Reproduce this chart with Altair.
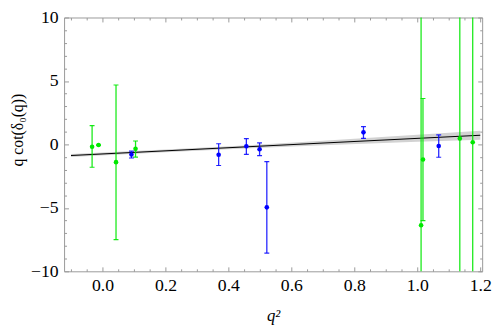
import altair as alt
import pandas as pd

# ---- data ----
green_x = [-0.033, -0.0125, 0.043, 0.105, 1.012, 1.018, 1.135, 1.176]
green_y = [-0.18, -0.05, -1.40, -0.35, -6.37, -1.19, 0.47, 0.17]
green_lo = [-1.80, -0.05, -7.50, -1.00, -30.0, -6.00, -30.0, -30.0]
green_hi = [1.48, -0.05, 4.68, 0.27, 30.0, 3.62, 30.0, 30.0]

blue_x = [0.092, 0.369, 0.457, 0.499, 0.522, 0.829, 1.068]
blue_y = [-0.80, -0.81, -0.15, -0.38, -4.96, 0.95, -0.13]
blue_lo = [-1.07, -1.66, -0.78, -0.88, -8.56, 0.48, -1.01]
blue_hi = [-0.53, 0.05, 0.45, 0.12, -1.36, 1.40, 0.75]

fit_x = [-0.1, 1.2]
fit_y = [-0.88, 0.72]

band_x = [-0.1, 0.2, 0.45, 0.7, 1.0, 1.2]
band_lo = [-1.00, -0.62, -0.32, -0.06, 0.20, 0.36]
band_hi = [-0.76, -0.40, -0.08, 0.28, 0.76, 1.08]

x_major = [0.0, 0.2, 0.4, 0.6, 0.8, 1.0, 1.2]
x_minor = [-0.1, -0.05, 0.05, 0.1, 0.15, 0.25, 0.3, 0.35, 0.45, 0.5, 0.55,
           0.65, 0.7, 0.75, 0.85, 0.9, 0.95, 1.05, 1.1, 1.15]
y_major = [-10, -5, 0, 5, 10]
y_minor = [-9, -8, -7, -6, -4, -3, -2, -1, 1, 2, 3, 4, 6, 7, 8, 9]

green_df = pd.DataFrame({"x": green_x, "y": green_y, "lo": green_lo, "hi": green_hi})
blue_df = pd.DataFrame({"x": blue_x, "y": blue_y, "lo": blue_lo, "hi": blue_hi})
fit_df = pd.DataFrame({"x": fit_x, "y": fit_y})
band_df = pd.DataFrame({"x": band_x, "lo": band_lo, "hi": band_hi})

FONT = "Liberation Serif"
FRAME = "#999999"
GREEN = "#00e800"
BLUE = "#0000ff"
MAJ = 4.5
MIN = 2.5

xs = alt.Scale(domain=[-0.122, 1.206], nice=False, zero=False)
ys = alt.Scale(domain=[-10, 10], nice=False, zero=False)


def tick_axis(orient, values, size):
    return alt.Axis(orient=orient, values=values, tickSize=size, offset=-size,
                    labels=False, domain=False, grid=False, title=None,
                    ticks=True, tickColor=FRAME, tickWidth=1)


main_x = alt.Axis(orient="bottom", values=x_major, format=".1f", tickSize=MAJ,
                  offset=-MAJ, domain=False, grid=False, tickColor=FRAME,
                  labelFont=FONT, labelFontSize=18, labelColor="black",
                  labelPadding=6, labelFlush=False, labelOverlap=False,
                  title="q²", titleFont=FONT, titleFontSize=17,
                  titleFontStyle="italic", titleFontWeight="normal",
                  titleColor="black", titlePadding=13)
main_y = alt.Axis(orient="left", values=y_major, format="d", tickSize=MAJ,
                  offset=-MAJ, domain=False, grid=False, tickColor=FRAME,
                  labelFont=FONT, labelFontSize=18, labelColor="black",
                  labelPadding=6, labelFlush=False, labelOverlap=False,
                  title="q cot(δ₀(q))", titleFont=FONT,
                  titleFontSize=16, titleFontWeight="normal", titleColor="black",
                  titleBaseline="middle", titleX=-52, titleY=114)

band = alt.Chart(band_df).mark_area(color="#d2d2d2", clip=True).encode(
    x=alt.X("x:Q", scale=xs, axis=tick_axis("bottom", x_minor, MIN)),
    y=alt.Y("lo:Q", scale=ys, axis=tick_axis("left", y_minor, MIN)),
    y2="hi:Q",
)

line = alt.Chart(fit_df).mark_line(color="black", strokeWidth=1.1, clip=True).encode(
    x=alt.X("x:Q", scale=xs, axis=tick_axis("top", x_major, MAJ)),
    y=alt.Y("y:Q", scale=ys, axis=tick_axis("right", y_major, MAJ)),
)


def err_layers(df, color, opacity):
    rule = alt.Chart(df).mark_rule(color=color, strokeWidth=1.3, opacity=opacity,
                                   clip=True).encode(
        x=alt.X("x:Q", scale=xs, axis=None),
        y=alt.Y("lo:Q", scale=ys, axis=None),
        y2="hi:Q",
    )
    caps = alt.Chart(df).transform_fold(["lo", "hi"], as_=["end", "val"]).mark_tick(
        color=color, orient="horizontal", size=5, thickness=1.2, opacity=opacity,
        clip=True
    ).encode(
        x=alt.X("x:Q", scale=xs, axis=None),
        y=alt.Y("val:Q", scale=ys, axis=None),
    )
    return rule, caps


g_rule, g_caps = err_layers(green_df, GREEN, 0.9)
b_rule, b_caps = err_layers(blue_df, BLUE, 0.85)

blue_pts = alt.Chart(blue_df).mark_circle(color=BLUE, size=22, opacity=1).encode(
    x=alt.X("x:Q", scale=xs, axis=tick_axis("top", x_minor, MIN)),
    y=alt.Y("y:Q", scale=ys, axis=tick_axis("right", y_minor, MIN)),
)

green_pts = alt.Chart(green_df).mark_circle(color=GREEN, size=22, opacity=1).encode(
    x=alt.X("x:Q", scale=xs, axis=main_x),
    y=alt.Y("y:Q", scale=ys, axis=main_y),
)

chart = (
    alt.layer(band, line, g_rule, g_caps, b_rule, b_caps, blue_pts, green_pts)
    .resolve_axis(x="independent", y="independent")
    .properties(
        width=425,
        height=258,
        autosize=alt.AutoSizeParams(type="none"),
        padding={"left": 57, "top": 7, "right": 10, "bottom": 57},
        background="white",
    )
    .configure(font=FONT)
    .configure_view(stroke=FRAME, strokeWidth=1)
    .configure_axis(labelFont=FONT, titleFont=FONT)
)

chart.save("out.html", embed_options={"renderer": "svg", "actions": False})
